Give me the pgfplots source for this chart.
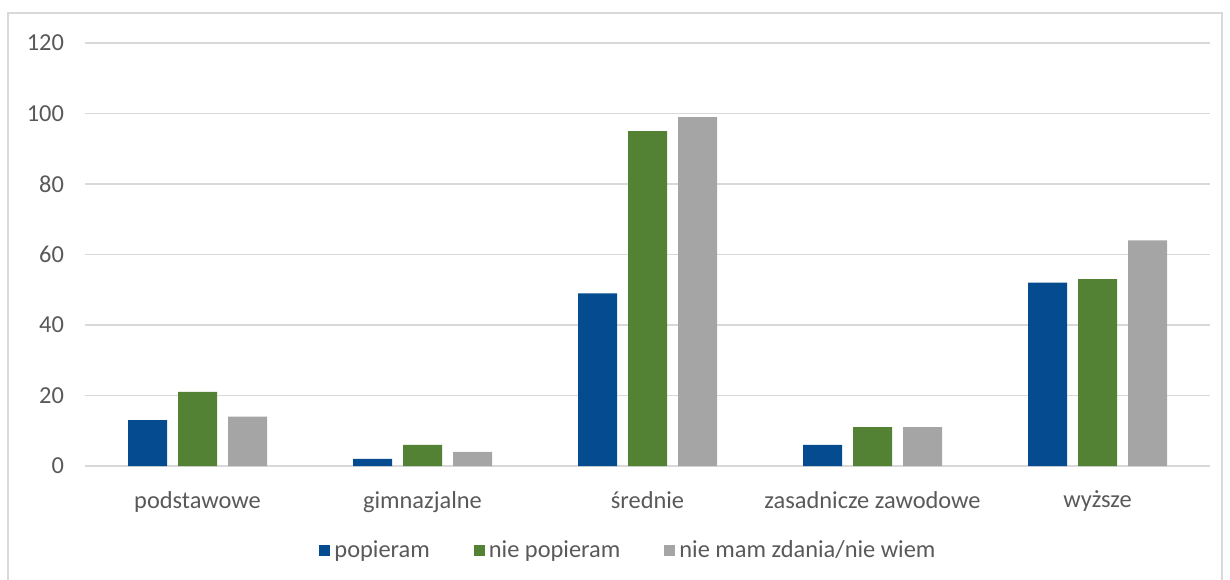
\documentclass[border=0pt]{standalone}
\usepackage{fontspec}
\setmainfont{Carlito}
\usepackage{pgfplots}
\pgfplotsset{compat=1.18}
\definecolor{cblue}{HTML}{044B8F}
\definecolor{cgreen}{HTML}{548235}
\definecolor{cgray}{HTML}{A5A5A5}
\definecolor{txt}{HTML}{595959}
\definecolor{gridc}{HTML}{D9D9D9}
\begin{document}
\begin{tikzpicture}[x=1pt,y=1pt]
\useasboundingbox (0,0) rectangle (615,289.5);
\draw[gridc, line width=0.6pt] (4,-5) rectangle (611,283);
\begin{axis}[
  at={(42.5pt,56.5pt)}, anchor=south west,
  scale only axis, width=562.5pt, height=211.5pt,
  ybar=5.5pt, bar width=19.5pt,
  xmin=-0.5, xmax=4.5, ymin=0, ymax=120,
  ytick={0,20,...,120},
  xtick={0,1,2,3,4},
  xticklabels={podstawowe,gimnazjalne,średnie,zasadnicze zawodowe,wyższe},
  axis line style={draw=none},
  major tick length=0pt,
  xmajorgrids=false, ymajorgrids=true,
  y grid style={draw=gridc, line width=0.6pt},
  tick label style={font=\fontsize{12.2}{14}\selectfont, text=txt},
  /pgf/number format/assume math mode=true,
  xticklabel style={yshift=-9pt},
  yticklabel style={xshift=-7pt},
  legend style={at={(0.484,-0.199)}, anchor=center, draw=none, legend columns=-1,
    font=\fontsize{12.2}{14}\selectfont, text=txt, /tikz/every even column/.append style={column sep=20pt}},
  legend image code/.code={\fill[#1] (0pt,-2.7pt) rectangle (5.5pt,2.8pt);},
  legend cell align=left,
]
\addplot[fill=cblue, draw=none] coordinates {(0,13) (1,2) (2,49) (3,6) (4,52)};
\addplot[fill=cgreen, draw=none] coordinates {(0,21) (1,6) (2,95) (3,11) (4,53)};
\addplot[fill=cgray, draw=none] coordinates {(0,14) (1,4) (2,99) (3,11) (4,64)};
\legend{popieram,nie popieram,nie mam zdania/nie wiem}
\end{axis}
\end{tikzpicture}
\end{document}
